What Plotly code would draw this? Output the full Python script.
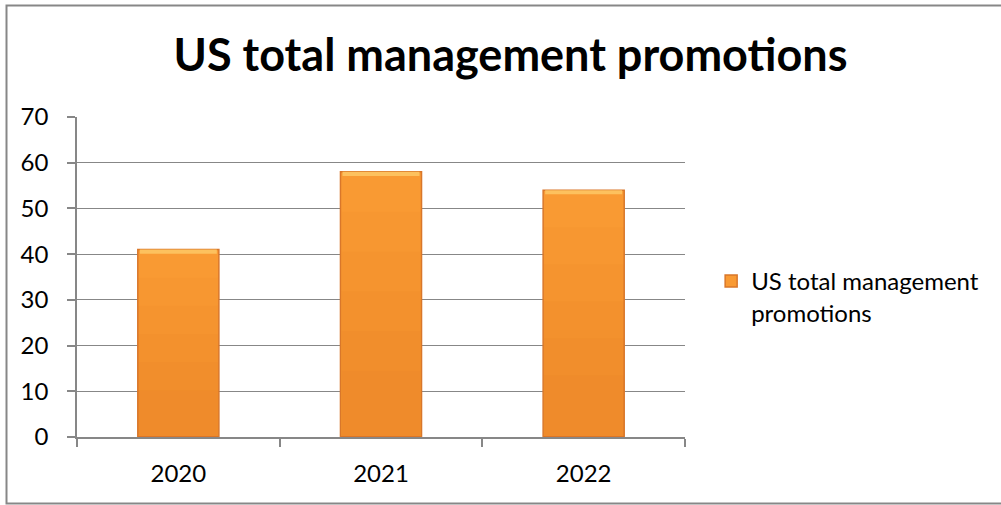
import plotly.graph_objects as go

years = ["2020", "2021", "2022"]
promotions = [41, 58, 54]
series_name = "US total management promotions"

FONT = "Lato"
GRID = "#878787"

fig = go.Figure()

# main bars
fig.add_trace(go.Bar(
    x=years, y=promotions,
    name="US total management<br>promotions",
    marker=dict(color="#F99A33", line=dict(color="#D9772A", width=1.5)),
    width=0.4,
))
# soft shading that darkens toward the base of each bar
for frac in [0.85, 0.7, 0.55, 0.4, 0.25]:
    fig.add_trace(go.Bar(
        x=years, y=[v * frac for v in promotions],
        marker=dict(color="rgba(205,95,20,0.045)", line=dict(width=0)),
        width=0.39, showlegend=False, hoverinfo="skip",
    ))
# light bevel along the top of each bar
fig.add_trace(go.Bar(
    x=years, y=[0.9] * len(years), base=[v - 0.9 for v in promotions],
    marker=dict(color="#FDC15E", line=dict(width=0)),
    width=0.38, showlegend=False, hoverinfo="skip",
))

fig.update_layout(
    width=1001, height=505,
    barmode="overlay",
    paper_bgcolor="white", plot_bgcolor="white",
    margin=dict(l=77, r=316, t=117, b=68),
    font=dict(family=FONT, size=24, color="black"),
    title=dict(
        text="<b>US total management promotions</b>",
        font=dict(family=FONT, size=45, color="black"),
        x=0.51, xref="container", xanchor="center",
        y=1 - 55 / 505, yref="container", yanchor="middle",
    ),
    legend=dict(
        x=1.043, xanchor="left", y=0.4375, yanchor="middle",
        font=dict(family=FONT, size=24), valign="top",
        itemwidth=30, bgcolor="rgba(0,0,0,0)",
    ),
    xaxis=dict(
        showline=True, linecolor=GRID, linewidth=1.5,
        ticks="outside", tickson="boundaries", ticklen=8, tickcolor=GRID,
        tickwidth=1.5, ticklabelstandoff=14,
        showgrid=False, zeroline=False,
    ),
    yaxis=dict(
        range=[0, 70], dtick=10,
        showline=True, linecolor=GRID, linewidth=1.5,
        ticks="outside", ticklen=8, tickcolor=GRID, tickwidth=1.5,
        showgrid=True, gridcolor=GRID, gridwidth=1,
        zeroline=False, ticklabelstandoff=14,
    ),
    shapes=[dict(
        type="rect", xref="paper", yref="paper",
        x0=(6.5 - 77) / 608, x1=(1010 - 77) / 608,
        y0=(437 - 503.5) / 320, y1=(437 - 5.5) / 320,
        line=dict(color=GRID, width=2), fillcolor="rgba(0,0,0,0)", layer="below",
    )],
)

fig.write_html("out.html")
